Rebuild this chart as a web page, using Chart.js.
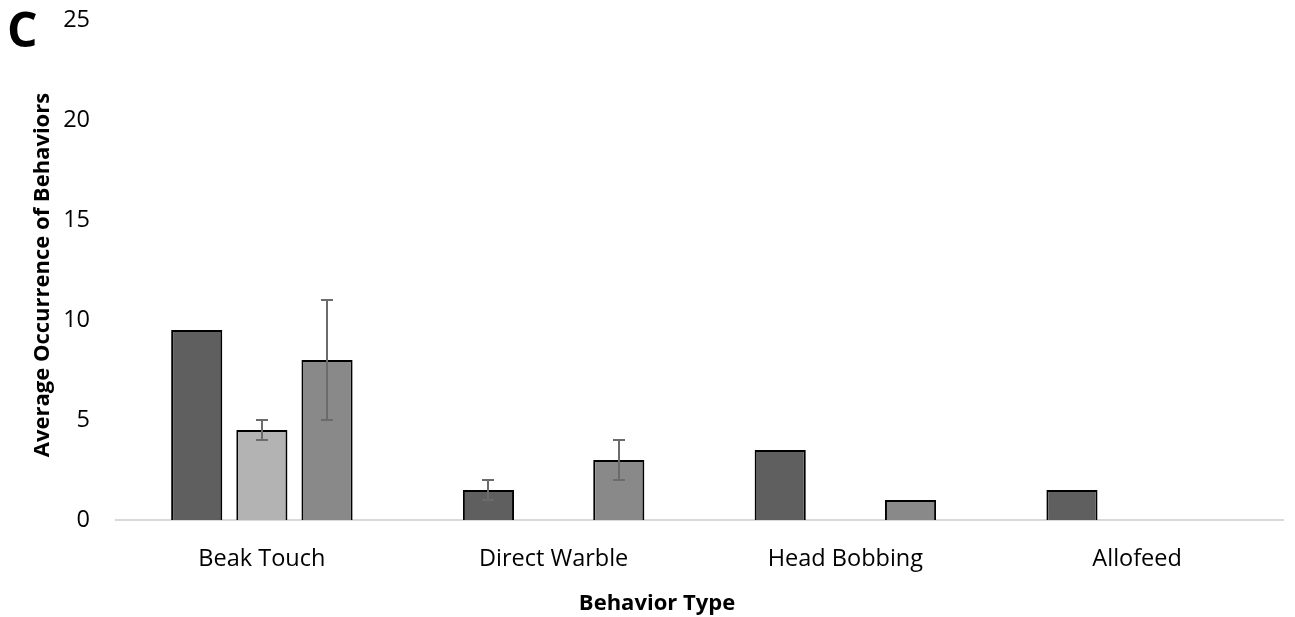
<!DOCTYPE html>
<html>
<head>
<meta charset="utf-8">
<script src="https://cdn.jsdelivr.net/npm/chart.js@4.4.1/dist/chart.umd.min.js"></script>
<style>
  html, body { margin: 0; padding: 0; background: #fff; }
  #wrap { width: 1295px; height: 617px; position: relative; }
</style>
</head>
<body>
<div id="wrap"><canvas id="c" width="1295" height="617"></canvas></div>
<script>
const categories = ['Beak Touch', 'Direct Warble', 'Head Bobbing', 'Allofeed'];
const seriesA = [9.5, 1.5, 3.5, 1.5];
const seriesB = [4.5, 0, 0, 0];
const seriesC = [8, 3, 1, 0];
// error ranges [low, high] per category, null where no error bar is shown
const errorsA = [null, [1, 2], null, null];
const errorsB = [[4, 5], null, null, null];
const errorsC = [[5, 11], [2, 4], null, null];
const yTicks = [0, 5, 10, 15, 20, 25];

const FONT = '"Open Sans", Lato, sans-serif';

const errorBarPlugin = {
  id: 'errorBars',
  afterDatasetsDraw(chart) {
    const ctx = chart.ctx;
    const y = chart.scales.y;
    chart.data.datasets.forEach((ds, di) => {
      if (!ds.errors) return;
      const meta = chart.getDatasetMeta(di);
      ds.errors.forEach((e, i) => {
        if (!e) return;
        const bar = meta.data[i];
        const x = Math.round(bar.x);
        const yLo = y.getPixelForValue(e[0]);
        const yHi = y.getPixelForValue(e[1]);
        ctx.save();
        ctx.strokeStyle = '#6b6b6b';
        ctx.lineWidth = 2;
        ctx.beginPath();
        ctx.moveTo(x, yLo); ctx.lineTo(x, yHi);
        ctx.moveTo(x - 6, yLo); ctx.lineTo(x + 6, yLo);
        ctx.moveTo(x - 6, yHi); ctx.lineTo(x + 6, yHi);
        ctx.stroke();
        ctx.restore();
      });
    });
  }
};

const labelsPlugin = {
  id: 'extraText',
  afterDraw(chart) {
    const ctx = chart.ctx;
    ctx.save();
    ctx.fillStyle = '#000';
    ctx.font = 'bold 48px ' + FONT;
    ctx.textAlign = 'left';
    ctx.textBaseline = 'alphabetic';
    ctx.fillText('C', 7, 47);

    ctx.font = 'bold 22px ' + FONT;
    ctx.textAlign = 'center';
    ctx.textBaseline = 'middle';
    ctx.fillText('Behavior Type', 657, 604);

    ctx.translate(43, 275);
    ctx.rotate(-Math.PI / 2);
    ctx.fillText('Average Occurrence of Behaviors', 0, 0);
    ctx.restore();
  }
};

const zeroless = c => (c.raw === 0 ? 0 : 2);

new Chart(document.getElementById('c'), {
  type: 'bar',
  data: {
    labels: categories,
    datasets: [
      { label: 'A', data: seriesA, errors: errorsA, backgroundColor: '#5f5f5f', borderColor: '#000', borderWidth: zeroless },
      { label: 'B', data: seriesB, errors: errorsB, backgroundColor: '#b3b3b3', borderColor: '#000', borderWidth: zeroless },
      { label: 'C', data: seriesC, errors: errorsC, backgroundColor: '#898989', borderColor: '#000', borderWidth: zeroless }
    ]
  },
  options: {
    responsive: false,
    animation: false,
    categoryPercentage: 0.67,
    barPercentage: 0.785,
    layout: { padding: { top: 20, right: 12, left: 0, bottom: 0 } },
    plugins: { legend: { display: false }, tooltip: { enabled: false } },
    scales: {
      x: {
        grid: { display: false, drawTicks: false },
        border: { display: true, color: '#d9d9d9', width: 2 },
        ticks: { color: '#000', font: { family: FONT, size: 23.5 }, padding: 25, maxRotation: 0 },
        afterFit(s) { s.height = 97; s.paddingLeft = 0; s.paddingRight = 0; }
      },
      y: {
        min: 0, max: 25,
        afterBuildTicks(s) { s.ticks = yTicks.map(v => ({ value: v })); },
        grid: { display: false, drawTicks: false },
        border: { display: false },
        ticks: { color: '#000', font: { family: FONT, size: 23.5 }, padding: 26 },
        afterFit(s) { s.width = 116; s.paddingTop = 0; s.paddingBottom = 0; }
      }
    }
  },
  plugins: [errorBarPlugin, labelsPlugin]
});
</script>
</body>
</html>
